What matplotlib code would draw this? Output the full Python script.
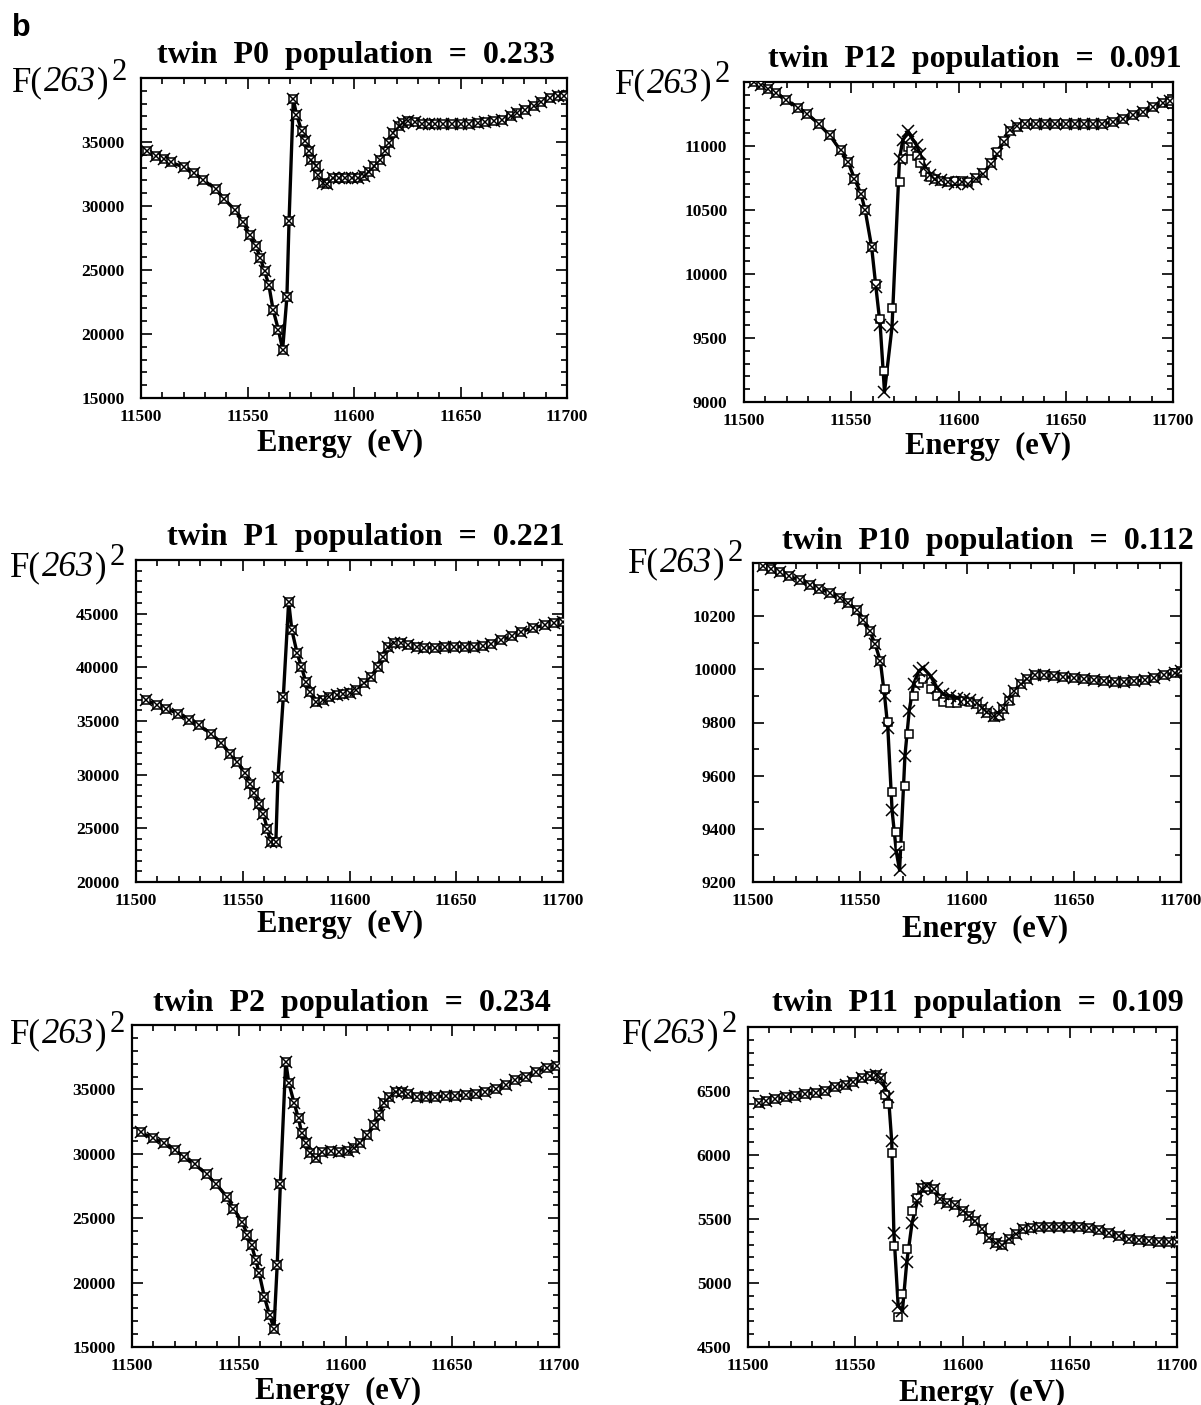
import matplotlib
matplotlib.use("Agg")
import matplotlib.pyplot as plt
from matplotlib.ticker import MultipleLocator, FuncFormatter

plt.rcParams["font.family"] = ["Liberation Serif", "DejaVu Serif"]
plt.rcParams["font.weight"] = "bold"

W, H = 1201, 1405

# --- DATA ---
labels = ["P0", "P12", "P1", "P10", "P2", "P11"]
populations = ["0.233", "0.091", "0.221", "0.112", "0.234", "0.109"]

# twin P0
e_p0 = [11503, 11507, 11511, 11514, 11520, 11525, 11529, 11535, 11539, 11544, 11548, 11551,
        11554, 11556, 11558, 11560, 11562, 11564.5, 11566.5, 11568.5, 11569.5, 11571.5, 11573,
        11575.5, 11577, 11579, 11580, 11582, 11583, 11585.5, 11587.5, 11590, 11593, 11596, 11599,
        11602, 11604.5, 11607, 11609.5, 11612, 11614.5, 11616.5, 11618.5, 11621, 11623, 11625.5,
        11628.5, 11632, 11635, 11638, 11642, 11646, 11650, 11654, 11658, 11661.5, 11665.5,
        11669.5, 11673.5, 11676.5, 11680.5, 11684.5, 11688, 11692, 11696, 11698.5]
obs_p0 = [34270, 33930, 33670, 33410, 33050, 32580, 32060, 31330, 30550, 29710, 28720, 27760,
          26850, 25940, 24900, 23850, 21900, 20340, 18780, 22890, 28800, 38360, 37140, 35830,
          35050, 34270, 33620, 33100, 32450, 31800, 31750, 32190, 32190, 32190, 32190, 32190,
          32320, 32630, 33100, 33620, 34270, 34920, 35700, 36220, 36480, 36610, 36540, 36430,
          36430, 36410, 36410, 36410, 36430, 36430, 36480, 36540, 36610, 36740, 37000, 37270,
          37530, 37840, 38100, 38440, 38570, 38620]
calc_p0 = obs_p0

# twin P12
e_p12 = [11504.5, 11508, 11511, 11515, 11519.5, 11525, 11529.5, 11535, 11540, 11545, 11548.5,
         11551.5, 11554.5, 11556.5, 11559.5, 11561.5, 11563.5, 11565.5, 11569, 11572.5, 11574,
         11576.5, 11578, 11580.5, 11582, 11584.5, 11586.5, 11589, 11592, 11595, 11598.5, 11601.5,
         11604.5, 11608, 11611.5, 11615, 11618, 11621, 11624, 11627.5, 11631, 11636, 11640.5,
         11645, 11650, 11654.5, 11658.5, 11662.5, 11667, 11672, 11676.5, 11681.5, 11686, 11690.5,
         11695.5, 11698.5]
obs_p12 = [11500, 11474, 11448, 11414, 11362, 11300, 11253, 11169, 11083, 10966, 10875, 10745,
           10628, 10497, 10211, 9898, 9599, 9078, 9586, 10901, 11044, 11117, 11070, 11005, 10940,
           10836, 10771, 10745, 10732, 10719, 10706, 10719, 10706, 10745, 10784, 10862, 10940,
           11031, 11122, 11153, 11169, 11169, 11169, 11169, 11169, 11169, 11169, 11169, 11174,
           11187, 11213, 11240, 11266, 11305, 11336, 11352]
calc_p12 = [11500, 11474, 11448, 11414, 11362, 11300, 11253, 11169, 11083, 10966, 10875, 10745,
            10628, 10497, 10211, 9925, 9651, 9240, 9737, 10719, 10901, 10990, 10960, 10920, 10870,
            10800, 10760, 10740, 10725, 10720, 10725, 10730, 10720, 10750, 10790, 10870, 10950,
            11040, 11120, 11150, 11169, 11169, 11169, 11169, 11169, 11169, 11169, 11169, 11174,
            11187, 11213, 11240, 11266, 11305, 11336, 11352]

# twin P1
e_p1 = [11504.5, 11510, 11514, 11519.5, 11525, 11529.5, 11535, 11540, 11544, 11547.5, 11551,
        11553.5, 11555.5, 11557.5, 11559.5, 11561.5, 11563, 11565.5, 11566.5, 11569, 11571.5,
        11573, 11575.5, 11577.5, 11579.5, 11581.5, 11584.5, 11587.5, 11590.5, 11594, 11597,
        11600, 11603, 11607, 11610, 11613.5, 11615.5, 11618, 11621, 11624, 11627.5, 11631.5,
        11635, 11640, 11644.5, 11649, 11654, 11658.5, 11662.5, 11666.5, 11671, 11676, 11680.5,
        11686, 11691.5, 11696, 11700]
obs_p1 = [36940, 36475, 36164, 35698, 35138, 34610, 33833, 32962, 31968, 31190, 30165, 29170,
          28300, 27305, 26372, 24973, 23730, 23730, 29792, 37252, 46111, 43470, 41293, 40050,
          38651, 37718, 36786, 36941, 37252, 37407, 37500, 37563, 37874, 38496, 39117, 40050,
          40982, 41915, 42288, 42288, 42070, 41853, 41822, 41822, 41853, 41915, 41915, 41915,
          41977, 42164, 42536, 42910, 43313, 43687, 43935, 44153, 44246]
calc_p1 = obs_p1

# twin P10
e_p10 = [11504.5, 11508.5, 11512.5, 11517, 11522, 11526.5, 11531, 11536, 11540.5, 11544.5,
         11548.5, 11551.5, 11554.5, 11557, 11559.5, 11561.5, 11563, 11565, 11567, 11568.5, 11571,
         11573, 11575, 11577.5, 11579.5, 11583, 11586, 11589, 11592, 11595.5, 11598.5, 11601.5,
         11604.5, 11607, 11609.5, 11612.5, 11615, 11617, 11619.5, 11622, 11625, 11628, 11632,
         11636, 11640.5, 11645, 11650, 11654.5, 11659.5, 11664, 11669, 11673.5, 11678, 11683,
         11687.5, 11692, 11697, 11700]
obs_p10 = [10387, 10377, 10365, 10350, 10335, 10319, 10304, 10287, 10269, 10250, 10222, 10187,
           10144, 10097, 10031, 9900, 9781, 9469, 9312, 9244, 9675, 9844, 9944, 9994, 10006, 9975,
           9931, 9906, 9900, 9894, 9887, 9885, 9875, 9856, 9840, 9825, 9831, 9856, 9887, 9919,
           9944, 9965, 9977, 9977, 9975, 9972, 9969, 9965, 9960, 9956, 9952, 9952, 9955, 9960,
           9969, 9977, 9987, 9994]
calc_p10 = [10387, 10377, 10365, 10350, 10335, 10319, 10304, 10287, 10269, 10250, 10222, 10187,
            10144, 10097, 10031, 9925, 9802, 9537, 9387, 9337, 9562, 9756, 9900, 9950, 9962, 9925,
            9900, 9877, 9875, 9875, 9881, 9878, 9869, 9850, 9835, 9822, 9825, 9850, 9880, 9915,
            9944, 9965, 9977, 9977, 9975, 9972, 9969, 9965, 9960, 9956, 9952, 9952, 9955, 9960,
            9969, 9977, 9987, 9994]

# twin P2
e_p2 = [11504, 11510, 11515, 11520, 11524.5, 11529.5, 11535, 11539.5, 11544.5, 11547.5, 11551.5,
        11554, 11556, 11558, 11559.5, 11562, 11564.5, 11566.5, 11568, 11569.5, 11572, 11573.5,
        11576, 11578, 11579.5, 11581.5, 11583.5, 11586, 11589, 11593, 11597, 11601, 11604,
        11607, 11610, 11613.5, 11615.5, 11618, 11620.5, 11623.5, 11626.5, 11629.5, 11633.5,
        11637.5, 11642, 11647, 11651.5, 11656.5, 11661, 11665.5, 11670.5, 11675, 11679.5,
        11684.5, 11689, 11694.5, 11699]
obs_p2 = [31658, 31192, 30803, 30285, 29767, 29171, 28394, 27617, 26658, 25751, 24715, 23731,
          22902, 21736, 20777, 18886, 17461, 16425, 21347, 27694, 37150, 35466, 33912, 32746,
          31580, 30803, 30026, 29637, 30104, 30207, 30155, 30207, 30415, 30803, 31451, 32228,
          33005, 33912, 34430, 34767, 34767, 34611, 34430, 34430, 34430, 34482, 34508, 34560,
          34611, 34767, 35026, 35337, 35725, 35984, 36373, 36632, 36839]
calc_p2 = obs_p2

# twin P11
e_p11 = [11505, 11508.5, 11512.5, 11517.5, 11522, 11526.5, 11531.5, 11536, 11540.5, 11545.5,
         11549, 11553, 11557, 11559.5, 11562, 11564, 11565.5, 11567, 11568, 11570, 11572, 11574,
         11576.5, 11579, 11581, 11583.5, 11586.5, 11589.5, 11593, 11596.5, 11600, 11603, 11606,
         11609, 11612.5, 11615.5, 11618.5, 11621.5, 11625, 11628, 11632, 11635.5, 11640.5,
         11645, 11649.5, 11654.5, 11659, 11663.5, 11668.5, 11673, 11677.5, 11682.5, 11687,
         11691.5, 11696.5, 11700]
obs_p11 = [6409, 6425, 6435, 6451, 6461, 6474, 6487, 6503, 6528, 6547, 6573, 6598, 6617, 6622,
           6598, 6521, 6456, 6106, 5394, 4824, 4785, 5161, 5472, 5640, 5731, 5756, 5731, 5653,
           5627, 5606, 5562, 5523, 5484, 5420, 5355, 5316, 5295, 5342, 5381, 5420, 5433, 5438,
           5440, 5440, 5440, 5440, 5433, 5414, 5389, 5368, 5347, 5337, 5329, 5321, 5321, 5321]
calc_p11 = [6409, 6425, 6435, 6451, 6461, 6474, 6487, 6503, 6528, 6547, 6573, 6598, 6617, 6622,
            6598, 6469, 6400, 6016, 5290, 4733, 4915, 5264, 5562, 5666, 5744, 5750, 5731, 5653,
            5627, 5606, 5562, 5523, 5484, 5420, 5355, 5316, 5295, 5342, 5381, 5420, 5433, 5438,
            5440, 5440, 5440, 5440, 5433, 5414, 5389, 5368, 5347, 5337, 5329, 5321, 5321, 5321]

energies = [e_p0, e_p12, e_p1, e_p10, e_p2, e_p11]
observed = [obs_p0, obs_p12, obs_p1, obs_p10, obs_p2, obs_p11]
calculated = [calc_p0, calc_p12, calc_p1, calc_p10, calc_p2, calc_p11]

# --- LAYOUT (pixels: left, right, top, bottom of each axes box) ---
boxes = [(141, 567, 78, 398), (744, 1173, 82, 402),
         (136, 563, 560, 882), (753, 1181, 563, 882),
         (132, 559, 1025, 1347), (748, 1177, 1027, 1347)]
ylims = [(15000, 40000), (9000, 11500), (20000, 50000),
         (9200, 10400), (15000, 40000), (4500, 7000)]
ysteps = [(5000, 1000), (500, 100), (5000, 1000), (200, 100), (5000, 1000), (500, 100)]
title_pos = [(157, 56), (768, 59), (167, 538), (782, 542), (153, 1003), (772, 1004)]
flabel_pos = [(12, 91), (615, 93), (10, 576), (628, 572), (10, 1043), (622, 1043)]
xlabel_pos = [(340, 443), (988, 446), (340, 924), (985, 929), (338, 1391), (982, 1393)]


def fx(x):
    return x / W


def fy(y):
    return 1 - y / H


def tick_fmt(top):
    # the label at the top edge of the box is left out, as in the original
    return FuncFormatter(lambda v, p: "" if abs(v - top) < 1e-6 else "%d" % round(v))


fig = plt.figure(figsize=(W / 100, H / 100), dpi=100)
renderer = fig.canvas.get_renderer()


def f_label(x, y):
    # "F(263)^2" built from pieces: upright F, italic 263, big raised 2
    pieces = [("F(", "normal", 0, 25, 0), ("263", "italic", 1, 25, 0),
              (")", "normal", 1, 25, 0), ("2", "normal", 3, 22, 11)]
    for txt, style, gap, size, rise in pieces:
        x += gap
        t = fig.text(fx(x), fy(y - rise), txt, fontsize=size, fontweight="normal",
                     style=style, ha="left", va="baseline")
        x = t.get_window_extent(renderer).x1


for i in range(6):
    l, r, t, b = boxes[i]
    ax = fig.add_axes([fx(l), fy(b), (r - l) / W, (b - t) / H])
    e, obs, calc = energies[i], observed[i], calculated[i]

    ax.plot(e, obs, color="black", lw=2.4, zorder=2)
    ax.plot(e, calc, ls="none", marker="s", ms=5.2, mfc="white", mec="black", mew=1.1, zorder=3)
    ax.plot(e, obs, ls="none", marker="x", ms=9, color="black", mew=1.1, zorder=4)

    ax.set_xlim(11500, 11700)
    ax.set_ylim(*ylims[i])
    ax.xaxis.set_major_locator(MultipleLocator(50))
    ax.xaxis.set_minor_locator(MultipleLocator(10))
    ax.yaxis.set_major_locator(MultipleLocator(ysteps[i][0]))
    ax.yaxis.set_minor_locator(MultipleLocator(ysteps[i][1]))
    ax.yaxis.set_major_formatter(tick_fmt(ylims[i][1]))
    ax.tick_params(which="both", direction="in", top=True, right=True, width=1.2,
                   labelsize=12.5)
    ax.tick_params(which="major", length=8)
    ax.tick_params(which="minor", length=4)
    ax.tick_params(axis="x", pad=8)
    ax.tick_params(axis="y", pad=12)
    for sp in ax.spines.values():
        sp.set_linewidth(1.6)

    fig.text(fx(title_pos[i][0]), fy(title_pos[i][1]),
             "twin  %s  population  =  %s" % (labels[i], populations[i]),
             fontsize=23, fontweight="bold", ha="left", va="center")
    f_label(*flabel_pos[i])
    fig.text(fx(xlabel_pos[i][0]), fy(xlabel_pos[i][1]), "Energy  (eV)",
             fontsize=22, fontweight="bold", ha="center", va="center")

fig.text(fx(12), fy(28), "b", fontsize=22, fontweight="bold", family="Liberation Sans",
         ha="left", va="center")

fig.savefig("out.png", dpi=100)
